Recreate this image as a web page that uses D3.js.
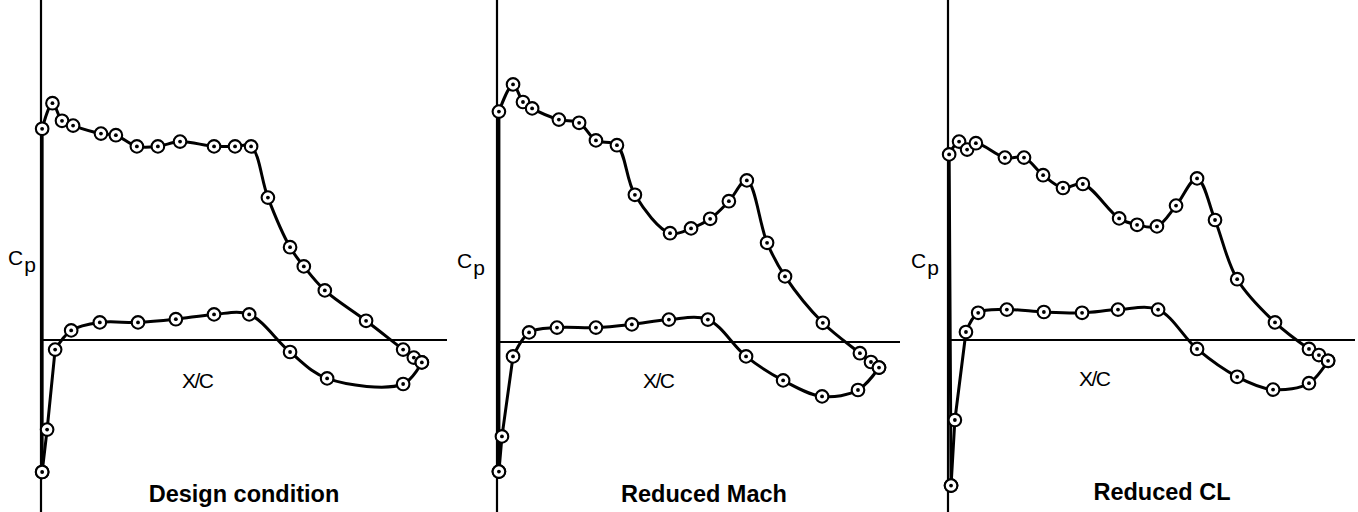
<!DOCTYPE html>
<html>
<head>
<meta charset="utf-8">
<title>Cp distributions</title>
<script src="https://d3js.org/d3.v7.min.js"></script>
<style>
  body { margin: 0; background: #fff; }
  text { font-family: "Liberation Sans", Arial, sans-serif; fill: #000; }
</style>
</head>
<body>
<script>
// chart data: X/C and Cp for each surface
const titles = ["Design condition", "Reduced Mach", "Reduced CL"];

const designUpperX  = [0.003, 0.003, 0.03, 0.055, 0.084, 0.157, 0.196, 0.251, 0.306, 0.364, 0.453, 0.508, 0.55, 0.594, 0.652, 0.688, 0.743, 0.851, 0.948, 0.976, 0.997];
const designUpperCp = [0.825, -1.32, -1.48, -1.37, -1.34, -1.29, -1.28, -1.21, -1.21, -1.24, -1.21, -1.21, -1.21, -0.89, -0.58, -0.46, -0.31, -0.12, 0.06, 0.11, 0.14];
const designLowerX  = [0.003, 0.016, 0.037, 0.079, 0.154, 0.254, 0.353, 0.453, 0.545, 0.652, 0.749, 0.948, 0.997];
const designLowerCp = [0.825, 0.56, 0.06, -0.06, -0.11, -0.11, -0.13, -0.16, -0.16, 0.075, 0.24, 0.275, 0.14];

const machUpperX  = [0.005, 0.005, 0.042, 0.068, 0.092, 0.162, 0.215, 0.259, 0.314, 0.361, 0.453, 0.508, 0.558, 0.607, 0.654, 0.707, 0.754, 0.853, 0.95, 0.979, 1.0];
const machUpperCp = [0.81, -1.44, -1.61, -1.5, -1.46, -1.39, -1.37, -1.26, -1.23, -0.92, -0.68, -0.71, -0.77, -0.88, -1.01, -0.62, -0.41, -0.12, 0.07, 0.125, 0.16];
const machLowerX  = [0.005, 0.013, 0.042, 0.084, 0.157, 0.259, 0.353, 0.45, 0.552, 0.652, 0.749, 0.851, 0.945, 1.0];
const machLowerCp = [0.81, 0.59, 0.09, -0.06, -0.09, -0.09, -0.11, -0.14, -0.14, 0.09, 0.24, 0.34, 0.3, 0.16];

const clUpperX  = [0.008, 0.003, 0.029, 0.05, 0.073, 0.149, 0.199, 0.249, 0.301, 0.353, 0.448, 0.495, 0.547, 0.597, 0.652, 0.699, 0.757, 0.856, 0.945, 0.971, 0.995];
const clUpperCp = [0.91, -1.16, -1.24, -1.19, -1.23, -1.14, -1.14, -1.03, -0.95, -0.975, -0.76, -0.72, -0.71, -0.84, -1.01, -0.75, -0.38, -0.11, 0.056, 0.094, 0.13];
const clLowerX  = [0.008, 0.018, 0.047, 0.079, 0.154, 0.251, 0.351, 0.445, 0.55, 0.652, 0.757, 0.851, 0.945, 0.995];
const clLowerCp = [0.91, 0.5, -0.05, -0.17, -0.19, -0.175, -0.17, -0.19, -0.19, 0.056, 0.23, 0.31, 0.27, 0.13];

const W = 1358, H = 512;
const chordPx = 382, cpPx = 160;

// where each panel sits on the page, and its label offsets
const panels = [
  {title: titles[0], x0: 41,  y0: 340, axisEnd: 447,  upX: designUpperX, upCp: designUpperCp, loX: designLowerX, loCp: designLowerCp,
   cpDx: -33, cpY: 265, xcDx: 141, xcY: 388, tDx: 203, tY: 502},
  {title: titles[1], x0: 497, y0: 342, axisEnd: 900,  upX: machUpperX,   upCp: machUpperCp,   loX: machLowerX,   loCp: machLowerCp,
   cpDx: -40, cpY: 268, xcDx: 146, xcY: 388, tDx: 207, tY: 502},
  {title: titles[2], x0: 948, y0: 340, axisEnd: 1355, upX: clUpperX,     upCp: clUpperCp,     loX: clLowerX,     loCp: clLowerCp,
   cpDx: -37, cpY: 268, xcDx: 131, xcY: 386, tDx: 214, tY: 500}
];

let svg = d3.select("body").append("svg")
  .attr("width", W).attr("height", H);
svg.append("rect").attr("width", W).attr("height", H).attr("fill", "#fff");

panels.forEach(function(p) {
  let x = d3.scaleLinear().domain([0, 1]).range([p.x0, p.x0 + chordPx]);
  let y = d3.scaleLinear().domain([0, 1]).range([p.y0, p.y0 + cpPx]);
  let g = svg.append("g");

  // axes
  g.append("line")
    .attr("x1", p.x0).attr("x2", p.x0)
    .attr("y1", 0).attr("y2", H)
    .attr("stroke", "#000").attr("stroke-width", 2.2);
  g.append("line")
    .attr("x1", p.x0).attr("x2", p.axisEnd)
    .attr("y1", y(0)).attr("y2", y(0))
    .attr("stroke", "#000").attr("stroke-width", 1.8);

  let smooth = d3.line()
    .x(function(d) { return x(d[0]); })
    .y(function(d) { return y(d[1]); })
    .curve(d3.curveCatmullRom.alpha(0.5));
  let straight = d3.line()
    .x(function(d) { return x(d[0]); })
    .y(function(d) { return y(d[1]); });

  let upper = p.upX.map(function(v, i) { return [v, p.upCp[i]]; });
  let lower = p.loX.map(function(v, i) { return [v, p.loCp[i]]; });

  // leading edge runs are straight, the rest is smoothed
  let parts = [
    straight(upper.slice(0, 2)), smooth(upper.slice(1)),
    straight(lower.slice(0, 3)), smooth(lower.slice(2))
  ];
  parts.forEach(function(dstr) {
    g.append("path")
      .attr("d", dstr)
      .attr("fill", "none")
      .attr("stroke", "#000")
      .attr("stroke-width", 3)
      .attr("stroke-linejoin", "round")
      .attr("stroke-linecap", "round");
  });

  let pts = upper.concat(lower);
  let mk = g.selectAll("g.mk").data(pts).enter().append("g")
    .attr("class", "mk")
    .attr("transform", function(d) { return "translate(" + x(d[0]) + "," + y(d[1]) + ")"; });
  mk.append("circle").attr("r", 6.3)
    .attr("fill", "#fff").attr("stroke", "#000").attr("stroke-width", 2.1);
  mk.append("circle").attr("r", 1.9).attr("fill", "#000");

  // labels
  let cp = g.append("text")
    .attr("x", p.x0 + p.cpDx).attr("y", p.cpY)
    .style("font-size", "21px");
  cp.append("tspan").text("C");
  cp.append("tspan").attr("dy", 7).attr("dx", 1).text("p");

  g.append("text")
    .attr("x", p.x0 + p.xcDx).attr("y", p.xcY)
    .style("font-size", "21px")
    .style("letter-spacing", "-1.5px")
    .text("X/C");

  g.append("text")
    .attr("x", p.x0 + p.tDx).attr("y", p.tY)
    .attr("text-anchor", "middle")
    .style("font-size", "23.5px")
    .style("font-weight", "bold")
    .text(p.title);
});
</script>
</body>
</html>
